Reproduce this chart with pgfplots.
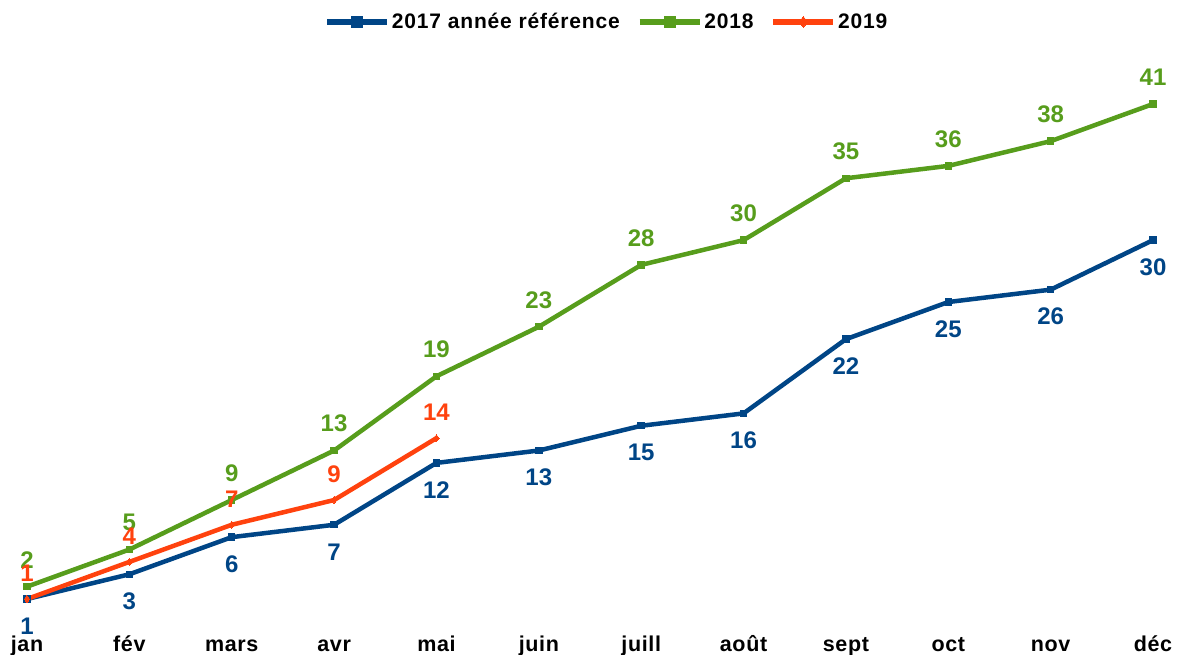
\documentclass[border=0pt]{standalone}
\usepackage{fontspec}
\setmainfont{Liberation Sans}
\usepackage{pgfplots}
\pgfplotsset{compat=1.18}
\definecolor{cblue}{HTML}{004586}
\definecolor{cgreen}{HTML}{579D1C}
\definecolor{corange}{HTML}{FF420E}
\begin{document}
\begin{tikzpicture}
\begin{axis}[
  scale only axis,
  width=1126pt, height=544.5pt,
  xmin=0, xmax=11, ymin=0, ymax=44,
  axis line style={draw=none},
  major tick length=0pt,
  ytick=\empty,
  xtick={0,...,11},
  xticklabels={jan,fév,mars,avr,mai,juin,juill,août,sept,oct,nov,déc},
  xticklabel style={font=\fontsize{21.5}{24}\selectfont\bfseries\addfontfeature{LetterSpace=3}, anchor=center, yshift=-34.5pt, text height=16pt, text depth=5pt},
  clip=false,
  /pgf/number format/assume math mode=true,
  legend columns=3,
  legend style={draw=none, fill=none, at={(0.515,1.0826)}, anchor=center,
    font=\fontsize{21}{24}\selectfont\bfseries\addfontfeature{LetterSpace=4},
    /tikz/every even column/.append style={column sep=15pt}},
  legend image code/.code={\draw[#1, line width=5.5pt] (0pt,0pt) -- (60pt,0pt);
     \draw[#1, mark size=5.5pt] plot coordinates {(30pt,0pt)};},
  nodes near coords={\pgfmathprintnumber{\pgfplotspointmeta}},
  every node near coord/.append style={font=\fontsize{24}{27}\selectfont\bfseries, anchor=center},
]
\addplot[cblue, line width=4.5pt, mark=square*, mark size=3.2pt, mark options={line width=0pt},
  every node near coord/.append style={yshift=-27pt, text=cblue}]
  coordinates {(0,1) (1,3) (2,6) (3,7) (4,12) (5,13) (6,15) (7,16) (8,22) (9,25) (10,26) (11,30)};
\addlegendentry{2017 année référence}
\addplot[cgreen, line width=4.5pt, mark=square*, mark size=3.2pt, mark options={line width=0pt},
  every node near coord/.append style={yshift=27pt, text=cgreen}]
  coordinates {(0,2) (1,5) (2,9) (3,13) (4,19) (5,23) (6,28) (7,30) (8,35) (9,36) (10,38) (11,41)};
\addlegendentry{2018}
\addplot[corange, line width=4.5pt, mark=diamond*, mark size=3.5pt, mark options={line width=0pt},
  every node near coord/.append style={yshift=26pt, text=corange}]
  coordinates {(0,1) (1,4) (2,7) (3,9) (4,14)};
\addlegendentry{2019}
\end{axis}
\pgfresetboundingbox
\path (-27pt,-42.6pt) rectangle (1150pt,611.4pt);
\end{tikzpicture}
\end{document}
